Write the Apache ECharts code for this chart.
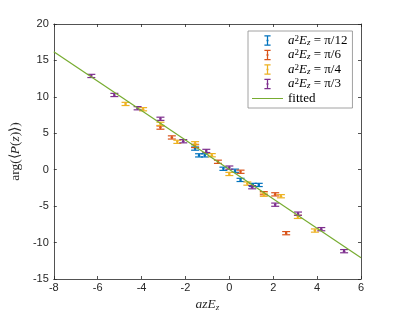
<!DOCTYPE html>
<html>
<head>
<meta charset="utf-8">
<script src="https://cdn.jsdelivr.net/npm/echarts@6/dist/echarts.min.js"></script>
<style>html,body{margin:0;padding:0;background:#fff;}#c{width:399px;height:319px;}</style>
</head>
<body>
<div id="c"></div>
<script>
// ---- data ----
const seriesLabels = ['π/12', 'π/6', 'π/4', 'π/3'];
const blueX = [-1.56, -1.38, -1.12, -0.27, 0.26, 0.51, 1.07, 1.34];
const blueY = [2.90, 1.97, 1.97, 0.13, -0.14, -1.40, -2.09, -2.09];
const orangeX = [-3.14, -2.62, -1.56, -0.52, 0.51, 1.57, 2.09, 2.59];
const orangeY = [5.78, 4.43, 3.26, 1.09, -0.28, -3.22, -3.38, -8.71];
const yellowX = [-4.73, -3.93, -3.14, -2.37, -1.56, -0.80, 0.00, 0.82, 1.57, 2.35, 3.12, 3.90];
const yellowY = [9.03, 8.30, 6.30, 3.83, 3.63, 1.99, -0.58, -1.90, -3.43, -3.64, -6.47, -8.35];
const purpleX = [-6.29, -5.24, -4.18, -3.14, -2.10, -1.05, 0.00, 1.04, 2.09, 3.13, 4.19, 5.23];
const purpleY = [12.87, 10.26, 8.44, 6.99, 3.91, 2.58, 0.29, -2.40, -4.80, -6.03, -8.16, -11.18];
const errHalf = 0.22;
const fitX = [-8, 6];
const fitY = [16.2, -12.1];

const colors = ['#0072BD', '#D95319', '#EDB120', '#7E2F8E'];
const fitColor = '#77AC30';
const axisColor = '#262626';

function pts(xs, ys) { return xs.map((x, i) => [x, ys[i], errHalf]); }
const groups = [pts(blueX, blueY), pts(orangeX, orangeY), pts(yellowX, yellowY), pts(purpleX, purpleY)];

function renderErr(params, api) {
  const x = api.value(0), y = api.value(1), e = api.value(2);
  const top = api.coord([x, y + e]);
  const bot = api.coord([x, y - e]);
  const c = api.coord([x, y]);
  const cx = c[0];
  const hw = 4;
  const col = api.visual('color');
  const st = { stroke: col, lineWidth: 1.2 };
  return {
    type: 'group',
    children: [
      { type: 'line', shape: { x1: cx, y1: top[1], x2: cx, y2: bot[1] }, style: st },
      { type: 'line', shape: { x1: cx - hw, y1: top[1], x2: cx + hw, y2: top[1] }, style: st },
      { type: 'line', shape: { x1: cx - hw, y1: bot[1], x2: cx + hw, y2: bot[1] }, style: st },
      { type: 'circle', shape: { cx: cx, cy: c[1], r: 1.3 }, style: { fill: col } }
    ]
  };
}

const errIcon = 'path://M0,5L0.1,5L0.1,5.1Z M12,0H18V1.2H15.6V4.2H16V5.8H15.6V8.8H18V10H12V8.8H14.4V5.8H14V4.2H14.4V1.2H12Z M29.9,5L30,5L30,5.1Z';
const lineIcon = 'path://M0,0L0.1,0L0.1,0.1Z M0,4.5H30V5.6H0Z M29.9,10L30,10L30,9.9Z';

const series = groups.map((g, i) => ({
  name: seriesLabels[i],
  type: 'custom',
  renderItem: renderErr,
  itemStyle: { color: colors[i] },
  data: g,
  z: 3,
  clip: true
}));
series.push({
  name: 'fitted',
  type: 'line',
  data: fitX.map((x, i) => [x, fitY[i]]),
  symbol: 'none',
  lineStyle: { color: fitColor, width: 1.2 },
  itemStyle: { color: fitColor },
  z: 4
});

const legendData = seriesLabels.map(n => ({ name: n, icon: errIcon }));
legendData.push({ name: 'fitted', icon: lineIcon });

const chart = echarts.init(document.getElementById('c'), null, { renderer: 'canvas' });
const tickFont = { color: axisColor, fontFamily: 'Liberation Sans, Arial, sans-serif', fontSize: 11 };
const axisLine = { show: true, onZero: false, lineStyle: { color: axisColor, width: 0.8 } };
const tick = { show: true, inside: true, length: 3, lineStyle: { color: axisColor, width: 0.8 } };
chart.setOption({
  animation: false,
  backgroundColor: '#fff',
  grid: { left: 52, right: 38, top: 24, bottom: 40, containLabel: false },
  legend: {
    data: legendData,
    orient: 'vertical',
    left: 248,
    top: 31,
    padding: [3, 5, 3, 4],
    itemGap: 1.5,
    itemWidth: 31,
    itemHeight: 11,
    backgroundColor: '#fff',
    borderColor: '#8a8a8a',
    borderWidth: 0.8,
    borderRadius: 0,
    formatter: function (name) {
      if (name === 'fitted') return '{n|fitted}';
      return '{i|a}{sup|2}{i|E}{sub|z}{n| = ' + name + '}';
    },
    textStyle: {
      color: '#000',
      fontFamily: 'Liberation Serif, DejaVu Serif, serif',
      fontSize: 12,
      rich: {
        i: { fontStyle: 'italic', fontFamily: 'Liberation Serif, serif', fontSize: 13, color: '#000' },
        n: { fontFamily: 'Liberation Serif, serif', fontSize: 13, color: '#000' },
        sup: { fontFamily: 'Liberation Serif, serif', fontSize: 9, verticalAlign: 'top', color: '#000' },
        sub: { fontStyle: 'italic', fontFamily: 'Liberation Serif, serif', fontSize: 9, verticalAlign: 'bottom', color: '#000' }
      }
    }
  },
  xAxis: [{
    type: 'value', min: -8, max: 6, interval: 2,
    position: 'bottom',
    name: '{i|azE}{s|z}',
    nameLocation: 'middle',
    nameGap: 17,
    nameTextStyle: {
      rich: {
        i: { fontStyle: 'italic', fontFamily: 'Liberation Serif, serif', fontSize: 13.5, color: axisColor },
        s: { fontStyle: 'italic', fontFamily: 'Liberation Serif, serif', fontSize: 9, color: axisColor, verticalAlign: 'bottom' }
      }
    },
    axisLine: axisLine,
    axisTick: tick,
    axisLabel: Object.assign({ margin: 3 }, tickFont),
    splitLine: { show: false }
  }, {
    type: 'value', min: -8, max: 6, interval: 2,
    position: 'top',
    axisLine: axisLine,
    axisTick: tick,
    axisLabel: { show: false },
    splitLine: { show: false }
  }],
  yAxis: [{
    type: 'value', min: -15, max: 20, interval: 5,
    position: 'left',
    name: '{r|arg(⟨}{i|P}{r|(}{i|z}{r|)⟩)}',
    nameLocation: 'middle',
    nameGap: 24,
    nameRotate: 90,
    nameTextStyle: {
      rich: {
        r: { fontFamily: 'Liberation Serif, serif', fontSize: 13.5, color: axisColor },
        i: { fontStyle: 'italic', fontFamily: 'Liberation Serif, serif', fontSize: 13.5, color: axisColor }
      }
    },
    axisLine: axisLine,
    axisTick: tick,
    axisLabel: Object.assign({ margin: 5 }, tickFont),
    splitLine: { show: false }
  }, {
    type: 'value', min: -15, max: 20, interval: 5,
    position: 'right',
    axisLine: axisLine,
    axisTick: tick,
    axisLabel: { show: false },
    splitLine: { show: false }
  }],
  series: series
});
</script>
</body>
</html>
